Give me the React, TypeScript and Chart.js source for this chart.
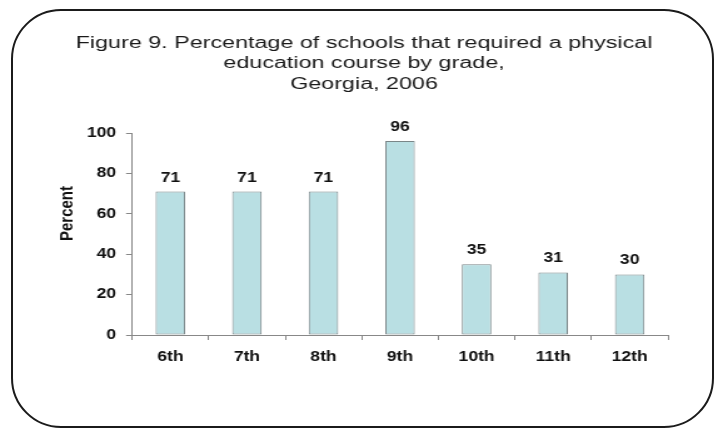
import React, { useEffect, useRef } from 'react';
import { Chart, registerables } from 'chart.js';

Chart.register(...registerables);

const grades = ['6th', '7th', '8th', '9th', '10th', '11th', '12th'];
const percents = [71, 71, 71, 96, 35, 31, 30];
const yMin = 0;
const yMax = 100;
const yStep = 20;
const titleLines = [
  'Figure 9. Percentage of schools that required a physical',
  'education course by grade,',
  'Georgia, 2006',
];
const yAxisTitle = 'Percent';

const FONT = '"Liberation Sans", Arial, Helvetica, sans-serif';
const CW = 574;
const CH = 428;

const extrasPlugin = {
  id: 'extras',
  afterDatasetsDraw(chart: any) {
    const ctx = chart.ctx as CanvasRenderingContext2D;
    const meta = chart.getDatasetMeta(0);
    ctx.save();
    ctx.fillStyle = '#111';
    ctx.textAlign = 'center';
    ctx.textBaseline = 'alphabetic';
    ctx.font = `bold 14px ${FONT}`;
    meta.data.forEach((bar: any, i: number) => {
      ctx.fillText(String(percents[i]), bar.x, bar.y - 10);
    });
    ctx.restore();

    ctx.save();
    ctx.fillStyle = '#1a1a1a';
    ctx.textAlign = 'center';
    ctx.textBaseline = 'alphabetic';
    ctx.font = `16px ${FONT}`;
    ctx.translate(291, 0);
    ctx.scale(1.165, 1);
    titleLines.forEach((t, i) => {
      ctx.fillText(t, 0, 47.5 + 20.5 * i);
    });
    ctx.restore();

    ctx.save();
    ctx.translate(54, 213.5);
    ctx.rotate(-Math.PI / 2);
    ctx.fillStyle = '#111';
    ctx.textAlign = 'center';
    ctx.font = `bold 15px ${FONT}`;
    ctx.textBaseline = 'middle';
    ctx.fillText(yAxisTitle, 0, 0);
    ctx.restore();
  },
};

export default function App() {
  const ref = useRef<HTMLCanvasElement | null>(null);
  useEffect(() => {
    const canvas = ref.current!;
    const chart = new Chart(canvas, {
      type: 'bar',
      data: {
        labels: grades,
        datasets: [
          {
            data: percents,
            backgroundColor: '#B9DFE3',
            borderColor: '#7a8688',
            borderWidth: 1,
            borderSkipped: false,
            barPercentage: 0.385,
            categoryPercentage: 1,
          },
        ],
      },
      options: {
        responsive: false,
        animation: false,
        devicePixelRatio: 1,
        layout: { padding: { top: 133, bottom: 53, left: 8, right: 40 } },
        plugins: {
          legend: { display: false },
          title: { display: false },
          tooltip: { enabled: false },
        },
        scales: {
          x: {
            grid: {
              offset: true,
              drawOnChartArea: false,
              drawTicks: true,
              tickLength: 5,
              tickColor: '#888',
              color: '#888',
            },
            border: { display: true, color: '#888', width: 1 },
            ticks: {
              color: '#111',
              font: { family: FONT, size: 14, weight: 'bold' },
              padding: 9,
              maxRotation: 0,
            },
            afterFit: (s: any) => {
              s.height = 40;
            },
          },
          y: {
            min: yMin,
            max: yMax,
            grid: {
              drawOnChartArea: false,
              drawTicks: true,
              tickLength: 4.8,
              tickColor: '#888',
              color: '#888',
            },
            border: { display: true, color: '#888', width: 1 },
            ticks: {
              stepSize: yStep,
              color: '#111',
              font: { family: FONT, size: 14, weight: 'bold' },
              padding: 8,
            },
            afterFit: (s: any) => {
              s.width = 97.6;
            },
          },
        },
      },
      plugins: [extrasPlugin],
    } as any);
    return () => chart.destroy();
  }, []);

  return (
    <div style={{ position: 'absolute', left: 0, top: 0, width: 718, height: 428, background: '#fff' }}>
      <canvas
        ref={ref}
        width={CW}
        height={CH}
        style={{ position: 'absolute', left: 0, top: 0, width: '718px', height: '428px', display: 'block' }}
      />
      <div
        style={{
          position: 'absolute',
          left: 11,
          top: 9,
          width: 703,
          height: 419,
          boxSizing: 'border-box',
          border: '2.5px solid #1b1b1b',
          borderRadius: 50,
          pointerEvents: 'none',
        }}
      />
    </div>
  );
}
